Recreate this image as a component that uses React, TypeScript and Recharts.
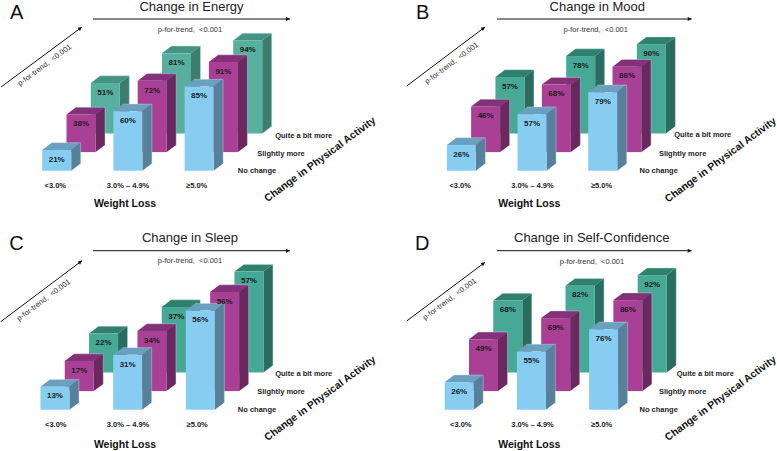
import { BarChart, Bar, XAxis, YAxis, LabelList } from "recharts";

const WIDTH = 777;
const HEIGHT = 451;
const FONT = '"Liberation Sans", Arial, sans-serif';

const categories = ["<3.0%", "3.0% – 4.9%", "≥5.0%"];
const levelLabels = ["Quite a bit more", "Slightly more", "No change"];

const energyNoChange = [21, 60, 85];
const energySlightly = [38, 72, 91];
const energyQuite = [51, 81, 94];

const moodNoChange = [26, 57, 79];
const moodSlightly = [46, 68, 86];
const moodQuite = [57, 78, 90];

const sleepNoChange = [13, 31, 56];
const sleepSlightly = [17, 34, 56];
const sleepQuite = [22, 37, 57];

const confidenceNoChange = [26, 55, 76];
const confidenceSlightly = [49, 69, 86];
const confidenceQuite = [68, 82, 92];

// depth of the fake 3D box, and the shift between rows
const DEPTH_X = 9.5;
const DEPTH_Y = 7.2;
const ROW_X = 24.3;
const ROW_Y = 18.6;
const BAR_W = 29;

const BLUE = { front: "#87cdf1", top: "#6b9fbe", side: "#57819b" };
const PURPLE = { front: "#a94095", top: "#85317a", side: "#6a285f" };
const GREEN = { front: "#45a995", top: "#2f806f", side: "#2a6c5f" };
const GREEN_A = { front: "#57b09f", top: "#459483", side: "#3d7d6e" };

type Pt = [number, number];

interface PanelProps {
  letter: string;
  letterPos: Pt;
  title: string;
  titlePos: Pt;
  noChange: number[];
  slightly: number[];
  quite: number[];
  green: typeof GREEN;
  firstBarX: number;
  step: number;
  base: number;
  pxPerPct: number;
  tickShift: number[];
  tickY: number;
  arrowH: [number, number, number];
  arrowD: [number, number, number, number];
  trendH: Pt;
  trendD: Pt;
  activity: Pt;
  levels: Pt[];
  weightLoss: Pt;
}

function Box3D(props: any) {
  const { x, y, width, height, colors } = props;
  if (height == null || width == null) return null;
  const edge = "#c8e6ee";
  return (
    <g>
      <polygon
        points={`${x},${y} ${x + DEPTH_X},${y - DEPTH_Y} ${x + width + DEPTH_X},${y - DEPTH_Y} ${x + width},${y}`}
        fill={colors.top}
      />
      <polygon
        points={`${x + width},${y} ${x + width + DEPTH_X},${y - DEPTH_Y} ${x + width + DEPTH_X},${y + height - DEPTH_Y} ${x + width},${y + height}`}
        fill={colors.side}
      />
      <rect x={x} y={y} width={width} height={height} fill={colors.front} />
      <path
        d={`M${x + width + DEPTH_X} ${y + height - DEPTH_Y} V${y - DEPTH_Y} H${x + DEPTH_X}`}
        fill="none"
        stroke={edge}
        strokeWidth={0.4}
      />
    </g>
  );
}

function Arrow({ line }: { line: [number, number, number, number] }) {
  const [x1, y1, x2, y2] = line;
  const a = (Math.atan2(y2 - y1, x2 - x1) * 180) / Math.PI;
  return (
    <g>
      <line x1={x1} y1={y1} x2={x2} y2={y2} stroke="#111" strokeWidth={1} />
      <polygon points="0,0 -4,-2 -4,2" fill="#111" transform={`translate(${x2} ${y2}) rotate(${a})`} />
    </g>
  );
}

function Panel(p: PanelProps) {
  const data = categories.map((name, i) => ({
    name,
    none: p.noChange[i],
    slight: p.slightly[i],
    quite: p.quite[i],
  }));
  const rows = [
    { id: "quite", colors: p.green, row: 2 },
    { id: "slight", colors: PURPLE, row: 1 },
    { id: "none", colors: BLUE, row: 0 },
  ];
  const plotLeft = p.firstBarX - (p.step - BAR_W) / 2;
  const plotW = p.step * 3 + ROW_X * 2;
  const plotH = p.pxPerPct * 100 + ROW_Y * 2;
  const xAxisH = 20;

  const renderTick = (t: any) => (
    <text
      x={t.x + p.tickShift[t.index]}
      y={p.tickY}
      textAnchor="middle"
      fontFamily={FONT}
      fontSize={7.5}
      fontWeight="bold"
      fill="#222"
    >
      {t.payload.value}
    </text>
  );

  return (
    <div style={{ position: "absolute", left: 0, top: 0 }}>
      <BarChart
        width={WIDTH}
        height={HEIGHT}
        data={data}
        barSize={BAR_W}
        margin={{
          left: plotLeft,
          right: WIDTH - plotLeft - plotW,
          top: p.base - plotH,
          bottom: HEIGHT - p.base - xAxisH,
        }}
      >
        {rows.map((r) => (
          <XAxis
            key={r.id}
            xAxisId={r.id}
            dataKey="name"
            hide={r.row !== 0}
            height={xAxisH}
            axisLine={false}
            tickLine={false}
            interval={0}
            tick={renderTick}
            padding={{ left: ROW_X * r.row, right: ROW_X * (2 - r.row) }}
          />
        ))}
        {rows.map((r) => (
          <YAxis
            key={r.id}
            yAxisId={r.id}
            hide
            domain={[0, 100]}
            padding={{ bottom: ROW_Y * r.row, top: ROW_Y * (2 - r.row) }}
          />
        ))}
        {rows.map((r) => (
          <Bar
            key={r.id}
            dataKey={r.id}
            xAxisId={r.id}
            yAxisId={r.id}
            isAnimationActive={false}
            shape={(s: any) => <Box3D {...s} colors={r.colors} />}
          >
            <LabelList
              dataKey={r.id}
              position="insideTop"
              offset={6}
              formatter={(v: any) => `${v}%`}
              style={{ fontFamily: FONT, fontSize: 8, fontWeight: "bold", fill: "#1a1a1a" }}
            />
          </Bar>
        ))}

        <g fontFamily={FONT}>
          <text x={p.letterPos[0]} y={p.letterPos[1]} fontSize={20} fill="#111">
            {p.letter}
          </text>
          <text x={p.titlePos[0]} y={p.titlePos[1]} fontSize={13} textAnchor="middle" fill="#222">
            {p.title}
          </text>
          <Arrow line={[p.arrowH[0], p.arrowH[2], p.arrowH[1], p.arrowH[2]]} />
          <Arrow line={p.arrowD} />
          <text x={p.trendH[0]} y={p.trendH[1]} fontSize={7.5} textAnchor="middle" fill="#333" xmlSpace="preserve">
            {"p-for-trend,  <0.001"}
          </text>
          <text
            x={p.trendD[0]}
            y={p.trendD[1]}
            fontSize={7.5}
            textAnchor="middle"
            fill="#333"
            xmlSpace="preserve"
            transform={`rotate(-36.5 ${p.trendD[0]} ${p.trendD[1]})`}
          >
            {"p-for-trend,  <0.001"}
          </text>
          <text
            x={p.activity[0]}
            y={p.activity[1]}
            fontSize={10.4}
            fontWeight="bold"
            textAnchor="middle"
            fill="#111"
            transform={`rotate(-36.5 ${p.activity[0]} ${p.activity[1]})`}
          >
            Change in Physical Activity
          </text>
          {levelLabels.map((label, i) => (
            <text
              key={label}
              x={p.levels[i][0]}
              y={p.levels[i][1]}
              fontSize={7.5}
              fontWeight="bold"
              textAnchor="middle"
              fill="#222"
            >
              {label}
            </text>
          ))}
          <text x={p.weightLoss[0]} y={p.weightLoss[1]} fontSize={10.5} fontWeight="bold" textAnchor="middle" fill="#111">
            Weight Loss
          </text>
        </g>
      </BarChart>
    </div>
  );
}

export default function App() {
  return (
    <div style={{ position: "absolute", left: 0, top: 0, width: WIDTH, height: HEIGHT, background: "#fff", overflow: "hidden" }}>
      <Panel
        letter="A"
        letterPos={[10, 19]}
        title="Change in Energy"
        titlePos={[191.5, 11]}
        noChange={energyNoChange}
        slightly={energySlightly}
        quite={energyQuite}
        green={GREEN_A}
        firstBarX={42.3}
        step={71.2}
        base={170.7}
        pxPerPct={0.99}
        tickShift={[-1.5, 0, -2.5]}
        tickY={187.7}
        arrowH={[93, 290, 19]}
        arrowD={[1, 87, 82, 27]}
        trendH={[190, 32]}
        trendD={[46, 67]}
        activity={[322, 162]}
        levels={[[303.7, 138], [281, 156], [257, 173]]}
        weightLoss={[125, 207]}
      />
      <Panel
        letter="B"
        letterPos={[416, 19]}
        title="Change in Mood"
        titlePos={[597.3, 11]}
        noChange={moodNoChange}
        slightly={moodSlightly}
        quite={moodQuite}
        green={GREEN}
        firstBarX={446.7}
        step={70.7}
        base={170.7}
        pxPerPct={0.993}
        tickShift={[-1, 0.5, -1]}
        tickY={187.7}
        arrowH={[497, 691.7, 19]}
        arrowD={[406.7, 86, 485, 27]}
        trendH={[595.7, 32]}
        trendD={[453, 65]}
        activity={[722.5, 162.5]}
        levels={[[702.7, 137.3], [682.7, 156], [658.7, 173]]}
        weightLoss={[529.3, 207]}
      />
      <Panel
        letter="C"
        letterPos={[9.3, 249.5]}
        title="Change in Sleep"
        titlePos={[190, 242.3]}
        noChange={sleepNoChange}
        slightly={sleepSlightly}
        quite={sleepQuite}
        green={GREEN}
        firstBarX={40.3}
        step={72.7}
        base={409.7}
        pxPerPct={1.77}
        tickShift={[1, 0.5, -3]}
        tickY={427}
        arrowH={[93, 290, 250.7]}
        arrowD={[0.7, 321.7, 82, 260.7]}
        trendH={[190, 262.7]}
        trendD={[45, 302]}
        activity={[322, 401]}
        levels={[[303.7, 375.7], [281, 394], [257, 412.3]]}
        weightLoss={[125, 447.7]}
      />
      <Panel
        letter="D"
        letterPos={[415, 249.5]}
        title="Change in Self-Confidence"
        titlePos={[591.7, 242.3]}
        noChange={confidenceNoChange}
        slightly={confidenceSlightly}
        quite={confidenceQuite}
        green={GREEN}
        firstBarX={444.3}
        step={72.2}
        base={409.7}
        pxPerPct={1.058}
        tickShift={[2, 1.5, -1.5]}
        tickY={427}
        arrowH={[497, 691.7, 250.7]}
        arrowD={[406.7, 321, 485, 262.3]}
        trendH={[592, 263.7]}
        trendD={[451, 301]}
        activity={[722.5, 401]}
        levels={[[705.3, 375.7], [682.7, 394], [658.7, 412.3]]}
        weightLoss={[529.3, 447.7]}
      />
    </div>
  );
}
